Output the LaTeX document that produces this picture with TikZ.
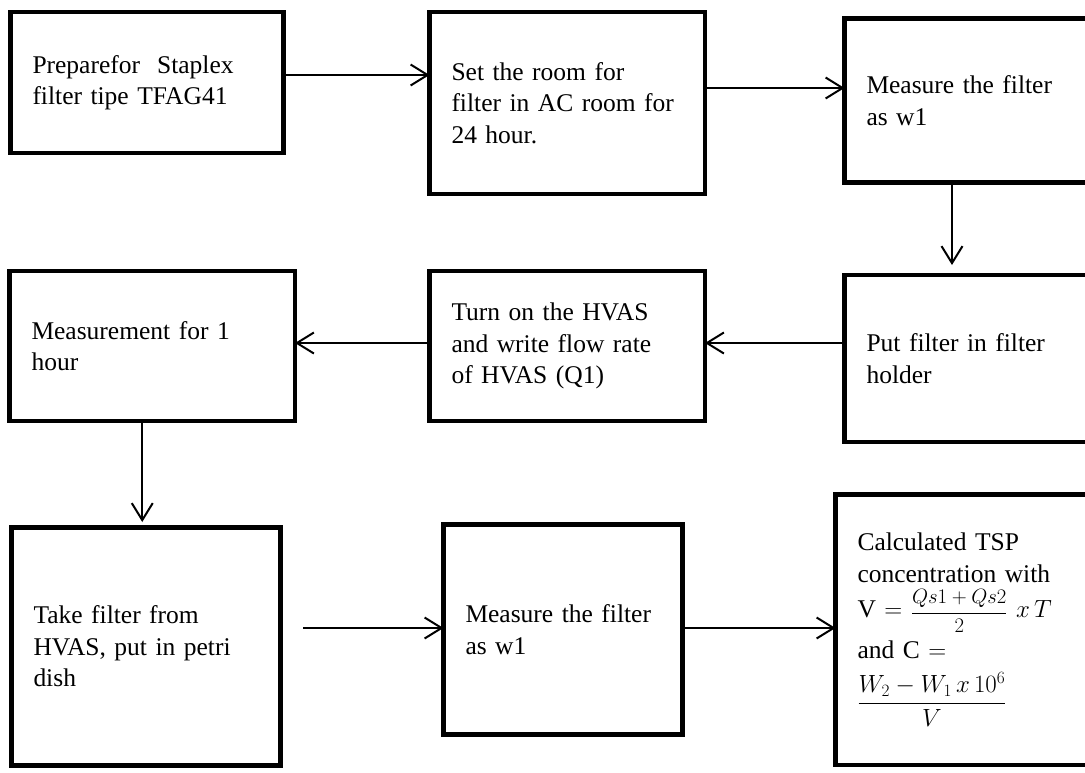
\documentclass[tikz,border=0pt]{standalone}
\usepackage{fontspec}
\setmainfont{Liberation Serif}
\usetikzlibrary{arrows.meta}
\tikzset{
  stepbox/.style={
    draw,
    rectangle,
    line width=4.5pt,
    outer sep=0pt,
    inner xsep=22pt,
    align=left,
    anchor=north west,
    font=\fontsize{25.5}{31.5}\selectfont
  },
  flow/.style={
    -{Straight Barb[length=17pt,width=21pt]},
    line width=2pt
  }
}

\begin{document}
\begin{tikzpicture}[x=1pt,y=-1pt]
  \clip (0,0) rectangle (1085,772);
  % top row
  \node[stepbox,text width=229pt,minimum height=141pt] (prep) at (10.5,12) {Preparefor\ \ Staplex\\filter tipe TFAG41};
  \node[stepbox,text width=231.5pt,minimum height=182pt] (room) at (429.5,12) {Set the room for\\filter in AC room for\\24 hour.};
  \node[stepbox,text width=216pt,minimum height=164pt] (wone) at (844.5,18.5) {Measure the filter\\as w1};
  % middle row
  \node[stepbox,text width=216pt,minimum height=167pt] (holder) at (844.5,275) {Put filter in filter\\holder};
  \node[stepbox,text width=231.5pt,minimum height=150pt] (hvas) at (429.5,271) {Turn on the HVAS\\and write flow rate\\of HVAS (Q1)};
  \node[stepbox,text width=241.5pt,minimum height=150pt] (hour) at (9.5,271) {Measurement for 1\\hour};
  % bottom row
  \node[stepbox,text width=225pt,minimum height=238pt] (petri) at (11.5,527.5) {Take filter from\\HVAS, put in petri\\dish};
  \node[stepbox,text width=195pt,minimum height=210pt] (wtwo) at (443.5,524.5) {Measure the filter\\as w1};
  \node[stepbox,text width=221pt,minimum height=270.5pt] (tsp) at (835.5,494.5) {Calculated TSP\\concentration with\\[4pt]V $=$ {\fontsize{21}{21}\selectfont$\displaystyle\frac{Qs1+Qs2}{2}$}\ $x\,T$\\[8pt]and C $=$\\[12pt]{\fontsize{23}{23}\selectfont$\displaystyle\frac{W_2-W_1\,x\,10^6}{V}$}\\[30pt]};
  % connectors
  \draw[flow] ([yshift=7.5pt]prep.east) -- ([yshift=7.5pt]prep.east -| room.west);
  \draw[flow] ([yshift=15pt]room.east) -- ([yshift=15pt]room.east -| wone.west);
  \draw[flow,shorten >=10pt] ([xshift=-22.5pt]wone.south) -- ([xshift=-22.5pt]wone.south |- holder.north);
  \draw[flow] ([yshift=15.5pt]holder.west) -- ([yshift=15.5pt]holder.west -| hvas.east);
  \draw[flow] ([yshift=3pt]hvas.west) -- ([yshift=3pt]hvas.west -| hour.east);
  \draw[flow,shorten >=5.5pt] ([xshift=-10pt]hour.south) -- ([xshift=-10pt]hour.south |- petri.north);
  \draw[flow,shorten <=22.5pt] ([yshift=18.5pt]petri.east) -- ([yshift=18.5pt]petri.east -| wtwo.west);
  \draw[flow] ([yshift=1.5pt]wtwo.east) -- ([yshift=1.5pt]wtwo.east -| tsp.west);
\end{tikzpicture}
\end{document}
